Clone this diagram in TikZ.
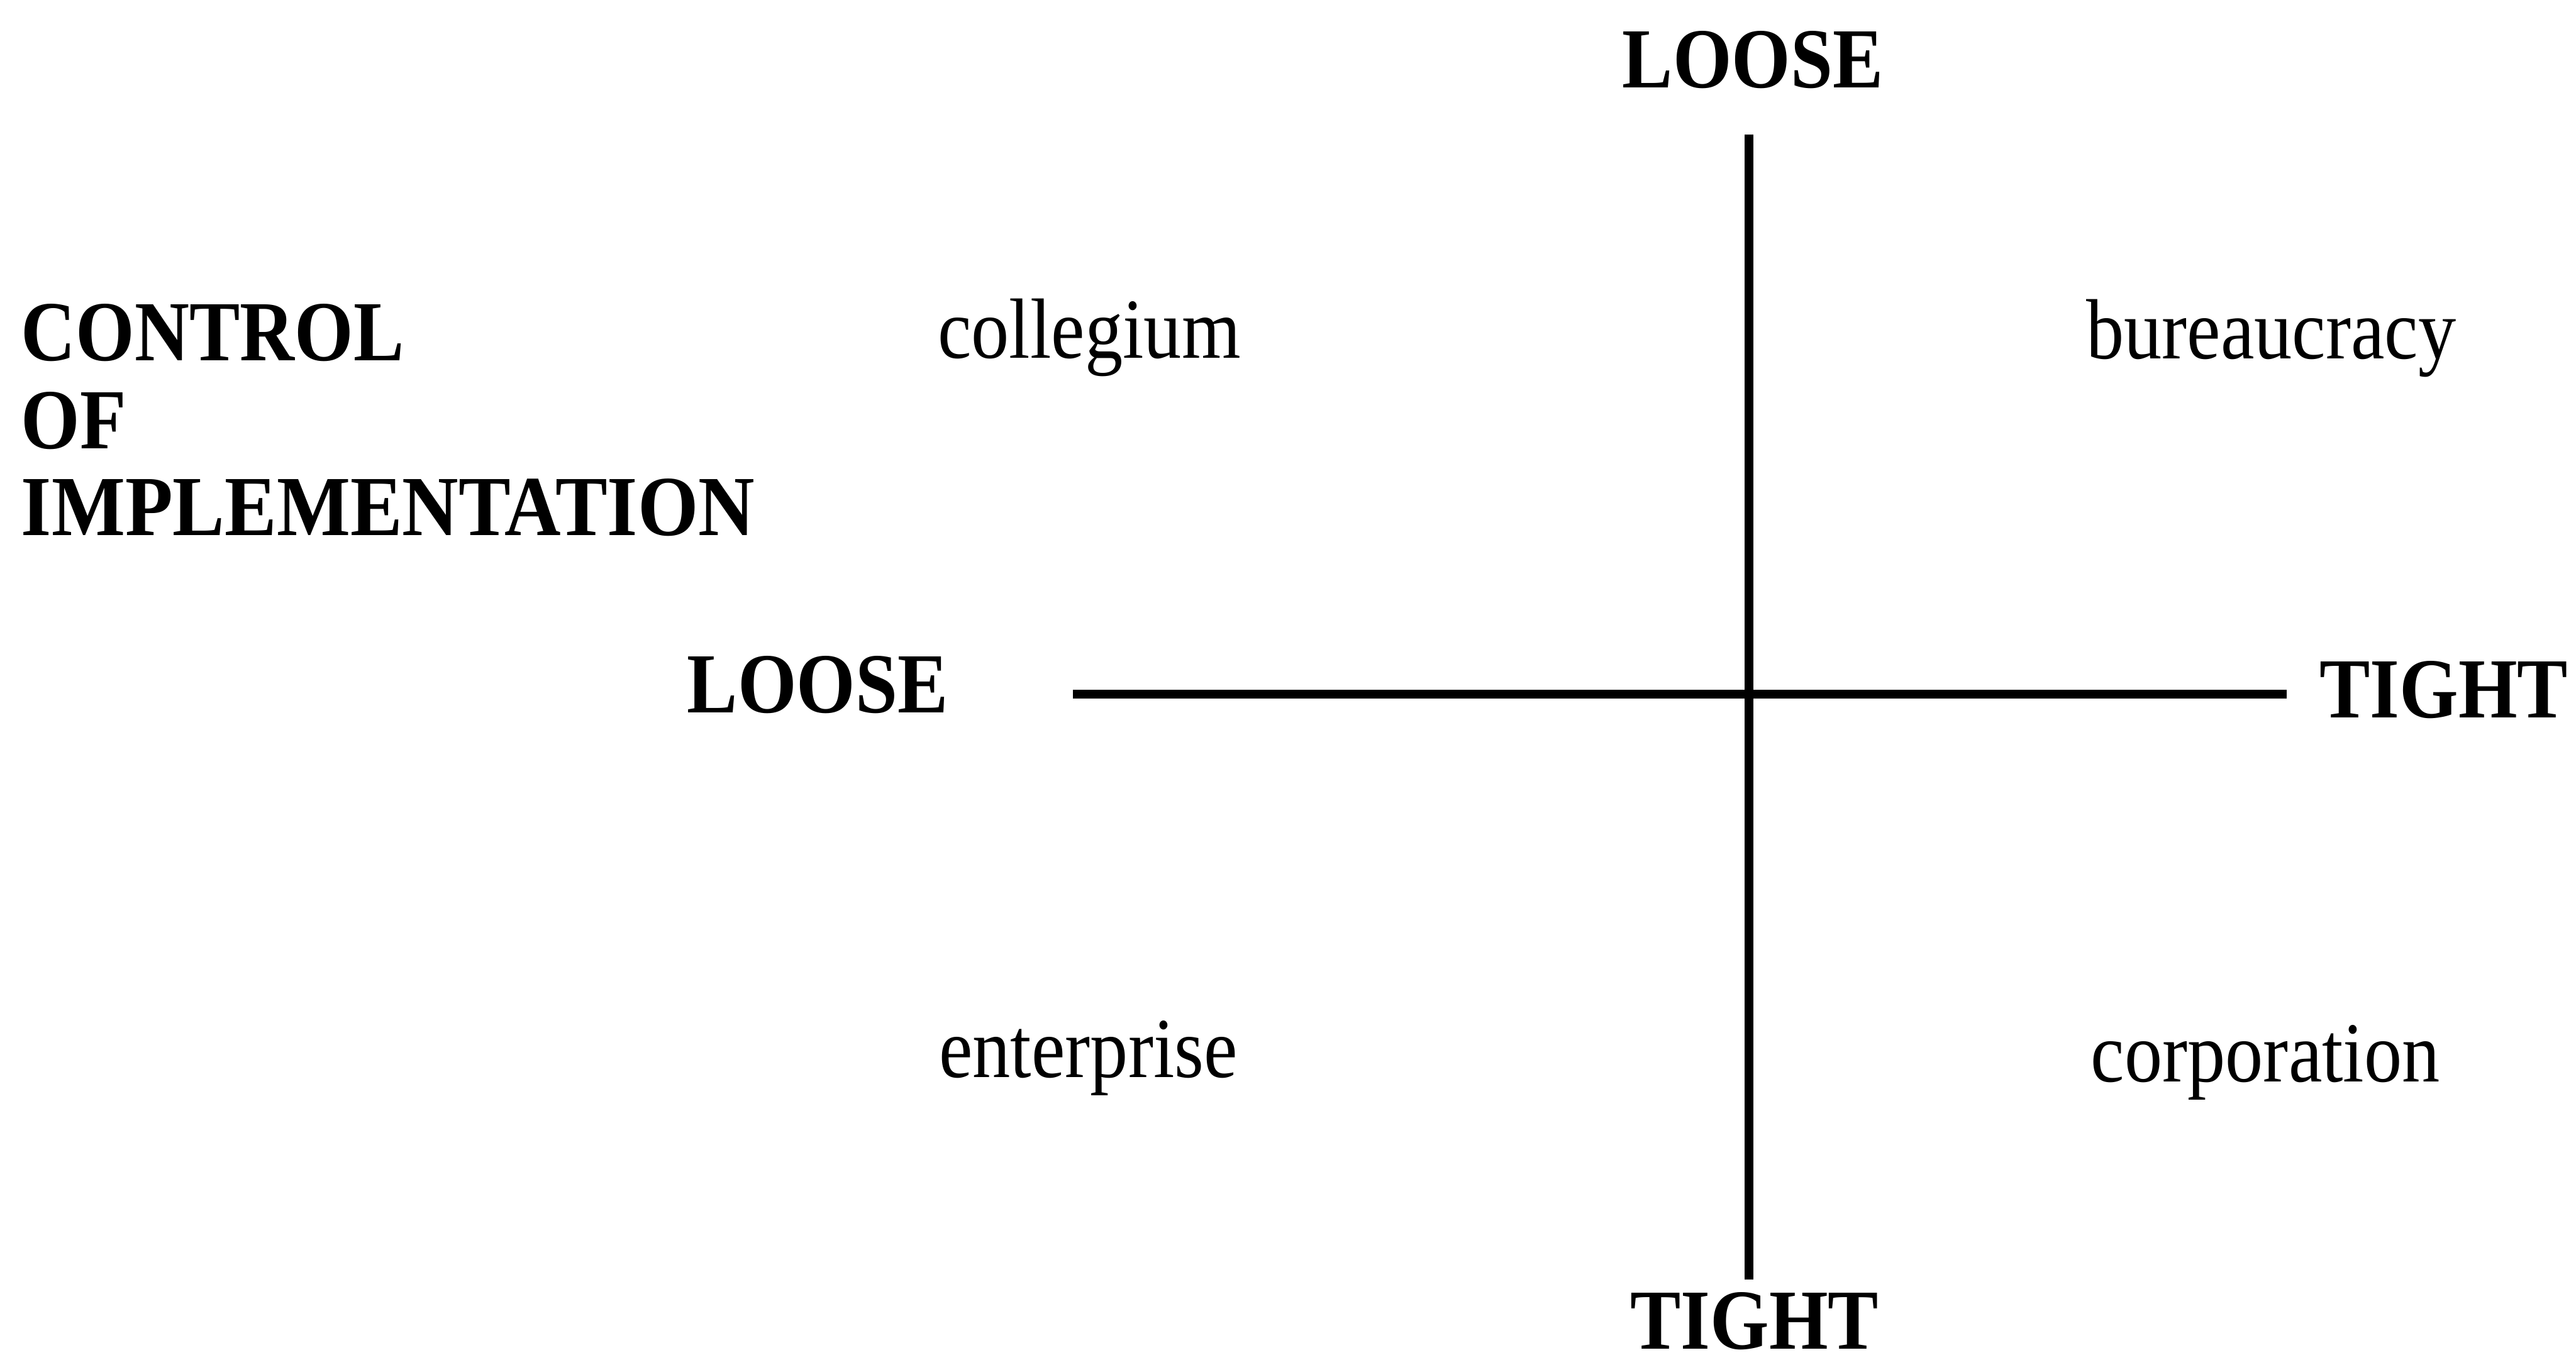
\documentclass[tikz,border=0pt]{standalone}
\usepackage{fontspec}
\setmainfont{Liberation Serif}
\begin{document}
\begin{tikzpicture}[x=0.01cm,y=-0.01cm,
  lbl/.style={inner sep=0pt,outer sep=0pt,font=\fontsize{13.1pt}{15pt}\selectfont},
  axislabel/.style={lbl,font=\fontsize{13.1pt}{15pt}\selectfont\bfseries},
  axis/.style={line width=1.55pt,black}]
\useasboundingbox (0,0) rectangle (1568,828);
\newcommand{\stretchy}[1]{\scalebox{1}[1.13]{#1}}
% axes
\coordinate (vtop) at (1064.5,82);
\coordinate (vbot) at (1064.5,779);
\coordinate (hleft) at (653,422.6);
\coordinate (hright) at (1392,422.6);
\draw[axis] (vtop) -- (vbot);
\draw[axis] (hleft) -- (hright);
% axis labels
\node[axislabel,anchor=base] (looseTop) at (1067,53.4) {\stretchy{LOOSE}};
\node[axislabel,anchor=base] (tightBot) at (1068,821.5) {\stretchy{TIGHT}};
\node[axislabel,anchor=base] (looseLeft) at (497.7,434) {\stretchy{LOOSE}};
\node[axislabel,anchor=base] (tightRight) at (1487.5,437) {\stretchy{TIGHT}};
% side title
\node[axislabel,anchor=base west] (ctl1) at (13,219.6) {\stretchy{CONTROL}};
\node[axislabel,anchor=base west] (ctl2) at (13,273) {\stretchy{OF}};
\node[axislabel,anchor=base west] (ctl3) at (13,326) {\scalebox{1.03}[1.13]{IMPLEMENTATION}};
% quadrant labels
\node[lbl,anchor=base] (collegium) at (663,218) {\stretchy{collegium}};
\node[lbl,anchor=base] (bureaucracy) at (1382.5,218.4) {\stretchy{bureaucracy}};
\node[lbl,anchor=base] (enterprise) at (662.5,656) {\stretchy{enterprise}};
\node[lbl,anchor=base] (corporation) at (1379,658.5) {\stretchy{corporation}};
\end{tikzpicture}
\end{document}
